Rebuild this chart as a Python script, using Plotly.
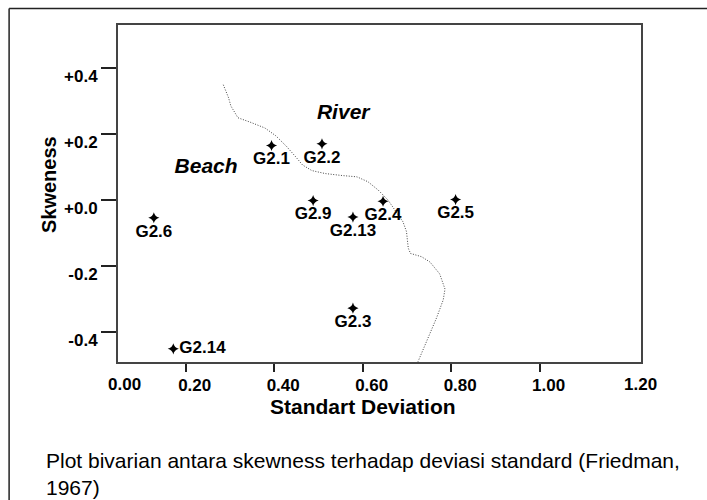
import plotly.graph_objects as go

# ---- data ----
samples = ["G2.1", "G2.2", "G2.9", "G2.4", "G2.5", "G2.6", "G2.13", "G2.3", "G2.14"]
std_dev = [0.394, 0.508, 0.488, 0.646, 0.810, 0.128, 0.578, 0.578, 0.172]
skewness = [0.164, 0.169, -0.003, -0.005, 0.000, -0.055, -0.053, -0.329, -0.452]

boundary_sd = [0.285, 0.297, 0.302, 0.318, 0.345, 0.379, 0.404, 0.428, 0.449, 0.464,
               0.485, 0.515, 0.553, 0.587, 0.612, 0.635, 0.657, 0.673, 0.691, 0.699,
               0.703, 0.708, 0.733, 0.752, 0.774, 0.786, 0.782, 0.767, 0.740, 0.725]
boundary_sk = [0.348, 0.308, 0.284, 0.248, 0.235, 0.217, 0.193, 0.161, 0.129, 0.105,
               0.088, 0.079, 0.073, 0.069, 0.054, 0.029, -0.001, -0.031, -0.067, -0.097,
               -0.147, -0.163, -0.173, -0.189, -0.225, -0.271, -0.304, -0.358, -0.445, -0.491]

x_ticks = [0.2, 0.4, 0.6, 0.8, 1.0]
x_ticktext = ["0.20", "0.40", "0.60", "0.80", "1.00"]
y_ticks = [0.4, 0.2, 0.0, -0.2, -0.4]
y_ticktext = ["+0.4", "+0.2", "+0.0", "-0.2", "-0.4"]

regions = ["Beach", "River"]
region_sd = [0.246, 0.556]
region_sk = [0.096, 0.260]

caption = "Plot bivarian antara skewness terhadap deviasi standard (Friedman,<br>1967)"

# ---- layout geometry (pixels) ----
W, H = 707, 500
L, R, T, B = 118, 641.5, 25, 362
PW, PH = R - L, B - T


def px(xp):
    return (xp - L) / PW


def py(yp):
    return (B - yp) / PH


FONT = "Liberation Sans, Arial, sans-serif"
bold = dict(family=FONT, size=17, color="black", weight="bold")

text_pos = ["bottom center"] * 8 + ["middle right"]

fig = go.Figure()
fig.add_trace(go.Scatter(
    x=boundary_sd, y=boundary_sk, mode="lines",
    line=dict(color="#444444", width=1, dash="1px,1.6px"),
    hoverinfo="skip", showlegend=False,
))
fig.add_trace(go.Scatter(
    x=std_dev, y=skewness, mode="markers+text",
    text=samples, textposition=text_pos, textfont=bold,
    marker=dict(symbol="star-diamond", size=8, color="black"),
    showlegend=False, cliponaxis=False,
))
fig.add_trace(go.Scatter(
    x=region_sd, y=region_sk, mode="text", text=regions,
    textfont=dict(family=FONT, size=21, color="black", weight="bold", style="italic"),
    showlegend=False, hoverinfo="skip",
))

fig.update_xaxes(
    range=[0.047, 1.229], tickvals=x_ticks, ticktext=x_ticktext,
    ticks="outside", ticklen=8, tickwidth=1.5, tickcolor="#222",
    showline=True, linecolor="#444", linewidth=2, mirror=True,
    showgrid=False, zeroline=False, tickfont=bold,
    ticklabelshift=9, ticklabelstandoff=-1,
)
fig.update_yaxes(
    range=[-0.492, 0.529], tickvals=y_ticks, ticktext=y_ticktext,
    ticks="outside", ticklen=15, tickwidth=1.5, tickcolor="#222",
    showline=True, linecolor="#444", linewidth=2, mirror=True,
    showgrid=False, zeroline=False, tickfont=bold,
    ticklabelshift=8, ticklabelstandoff=0,
)

annotations = [
    dict(x=px(125), xref="paper", y=py(384), yref="paper", text="0.00", showarrow=False,
         xanchor="center", yanchor="middle", font=bold),
    dict(x=px(641), xref="paper", y=py(384), yref="paper", text="1.20", showarrow=False,
         xanchor="center", yanchor="middle", font=bold),
    dict(x=px(363), xref="paper", y=py(406), yref="paper", text="Standart Deviation",
         showarrow=False, xanchor="center", yanchor="middle",
         font=dict(family=FONT, size=21, color="black", weight="bold")),
    dict(x=px(49), xref="paper", y=py(185), yref="paper", text="Skweness",
         showarrow=False, xanchor="center", yanchor="middle", textangle=-90,
         font=dict(family=FONT, size=20, color="black", weight="bold")),
    dict(x=px(44), xref="paper", y=py(447), yref="paper", text=caption,
         showarrow=False, xanchor="left", yanchor="top", align="left",
         font=dict(family=FONT, size=21, color="black")),
]

shapes = [
    dict(type="line", xref="paper", yref="paper", x0=px(9), x1=px(720), y0=py(8.5), y1=py(8.5),
         line=dict(color="#222", width=1.5)),
    dict(type="line", xref="paper", yref="paper", x0=px(9), x1=px(9), y0=py(8.5), y1=py(520),
         line=dict(color="#222", width=1.5)),
]

fig.update_layout(
    width=W, height=H,
    margin=dict(l=L, r=W - R, t=T, b=H - B, pad=0),
    paper_bgcolor="white", plot_bgcolor="white",
    annotations=annotations, shapes=shapes,
    font=dict(family=FONT, color="black"),
)

fig.write_html("out.html", config={"displayModeBar": False},
               post_script="document.body.style.margin='0';document.body.style.overflow='hidden';")
